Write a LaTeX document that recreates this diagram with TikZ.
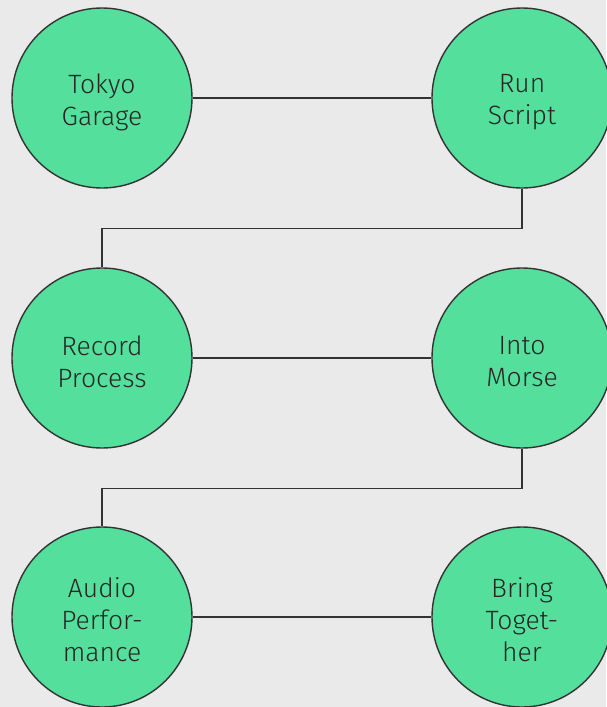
\documentclass[tikz,border=0pt]{standalone}
\usepackage{fontspec}
\setmainfont{Fira Sans}[UprightFont={* Light}]
\definecolor{bg}{HTML}{EAEAEA}
\definecolor{nodegreen}{HTML}{55DF9C}
\definecolor{edge}{HTML}{333333}
\begin{document}
\begin{tikzpicture}[x=1pt,y=1pt,
  stepnode/.style={circle,draw=edge,line width=1.4pt,fill=nodegreen,minimum size=180pt,inner sep=0pt},
  steptext/.style={align=center,inner sep=0pt,font=\fontsize{26.5}{32}\selectfont,text=black!85},
  conn/.style={draw=edge,line width=1.4pt}]
\fill[bg] (0,0) rectangle (606,-707);
\useasboundingbox (0,0) rectangle (606,-707);
\node[stepnode] (a) at (102,-98) {};
\node[stepnode] (b) at (522,-98) {};
\node[stepnode] (c) at (102,-358) {};
\node[stepnode] (d) at (522,-358) {};
\node[stepnode] (e) at (102,-617) {};
\node[stepnode] (f) at (522,-617) {};
\node[steptext] (ta) at ([yshift=-4pt]a.center) {Tokyo\\Garage};
\node[steptext] (tb) at ([yshift=-4pt]b.center) {Run\\Script};
\node[steptext] (tc) at ([yshift=-4pt]c.center) {Record\\Process};
\node[steptext] (td) at ([yshift=-4pt]d.center) {Into\\Morse};
\node[steptext] (te) at ([yshift=-3pt]e.center) {Audio\\Perfor-\\mance};
\node[steptext] (tf) at ([yshift=-3pt]f.center) {Bring\\Toget-\\her};
\draw[conn] (a) -- (b);
\draw[conn] (c) -- (d);
\draw[conn] (e) -- (f);
\draw[conn] (b.south) -- ++(0,-40) -| (c.north);
\draw[conn] (d.south) -- ++(0,-40) -| (e.north);
\end{tikzpicture}
\end{document}
